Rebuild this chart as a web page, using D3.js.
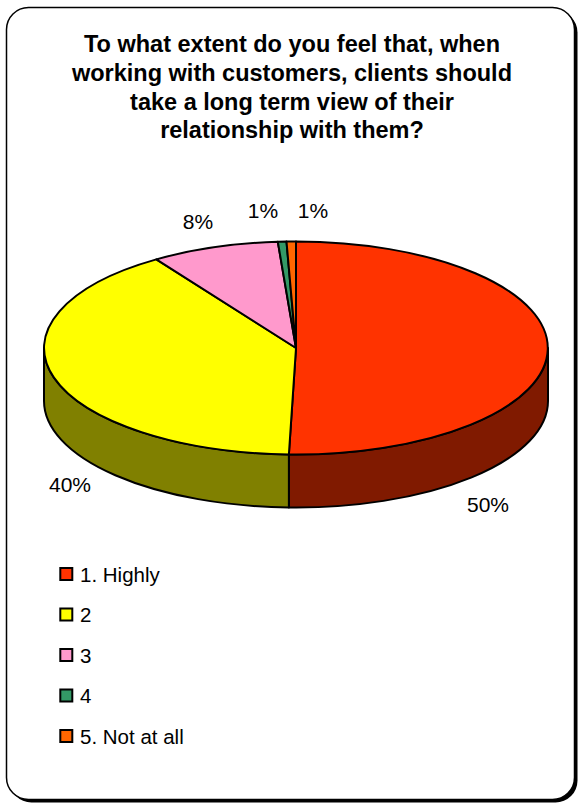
<!DOCTYPE html>
<html>
<head>
<meta charset="utf-8">
<script src="https://cdn.jsdelivr.net/npm/d3@7"></script>
<style>
  html, body { margin: 0; padding: 0; background: #fff; }
  svg { display: block; }
  text { font-family: "Liberation Sans", Arial, sans-serif; fill: #000; }
</style>
</head>
<body>
<svg id="chart" width="580" height="805"></svg>
<script>
// Survey answers, share of respondents (%)
const categories = ["1. Highly", "2", "3", "4", "5. Not at all"];
const shares = [50.45, 40.2, 8.2, 0.55, 0.6];
const topColors = ["#FF3300", "#FFFF00", "#FF99CC", "#339966", "#FF6600"];
const sideColors = ["#801A00", "#808000", "#804D66", "#1A4D33", "#803300"];
const titleLines = [
  "To what extent do you feel that, when",
  "working with customers, clients should",
  "take a long term view of their",
  "relationship with them?"
];

// Layout
const W = 580, H = 805;
const cx = 296, cy = 348, rx = 252, ry = 106.5, depth = 53;
// Centres of the percentage labels, one per slice
const labelAt = [[488, 512], [70, 492], [198, 229], [263, 218], [313, 218]];

const svg = d3.select("#chart");

// Frame with drop shadow
svg.append("rect")
  .attr("x", 9.5).attr("y", 10.5).attr("width", 568).attr("height", 792)
  .attr("rx", 22).attr("ry", 22).attr("fill", "#000");
svg.append("rect")
  .attr("x", 6.5).attr("y", 7.5).attr("width", 568).attr("height", 792)
  .attr("rx", 22).attr("ry", 22)
  .attr("fill", "#fff").attr("stroke", "#000").attr("stroke-width", 1.5);

// Title
svg.append("text")
  .attr("text-anchor", "middle")
  .attr("font-weight", "bold")
  .attr("font-size", 23.5)
  .selectAll("tspan")
  .data(titleLines)
  .join("tspan")
  .attr("x", 292)
  .attr("y", (d, i) => 52 + i * 28.8)
  .text(d => d);

// Pie angles (clockwise from 12 o'clock)
const pie = d3.pie().sort(null).value(d => d).startAngle(0).endAngle(2 * Math.PI);
const arcs = pie(shares);

// Point on the tilted rim at angle a, shifted down by dy
const pt = (a, dy = 0) => [cx + rx * Math.sin(a), cy - ry * Math.cos(a) + dy];
const fmt = p => p.map(v => v.toFixed(2)).join(",");

function topPath(d) {
  const p0 = pt(d.startAngle), p1 = pt(d.endAngle);
  const large = d.endAngle - d.startAngle > Math.PI ? 1 : 0;
  return `M${cx},${cy}L${fmt(p0)}A${rx},${ry} 0 ${large} 1 ${fmt(p1)}Z`;
}

function sidePath(d) {
  const s = Math.max(d.startAngle, Math.PI / 2);
  const e = Math.min(d.endAngle, 3 * Math.PI / 2);
  if (s >= e) return null;
  return `M${fmt(pt(s))}A${rx},${ry} 0 0 1 ${fmt(pt(e))}` +
         `L${fmt(pt(e, depth))}A${rx},${ry} 0 0 0 ${fmt(pt(s, depth))}Z`;
}

const pieG = svg.append("g")
  .attr("stroke", "#000").attr("stroke-width", 2).attr("stroke-linejoin", "round");

// Front walls
pieG.selectAll("path.side")
  .data(arcs.filter(d => sidePath(d)))
  .join("path")
  .attr("class", "side")
  .attr("d", sidePath)
  .attr("fill", d => sideColors[d.index]);

// Top faces
pieG.selectAll("path.top")
  .data(arcs)
  .join("path")
  .attr("class", "top")
  .attr("d", topPath)
  .attr("fill", d => topColors[d.index]);

// Percentage labels
svg.append("g")
  .attr("font-size", 21)
  .attr("text-anchor", "middle")
  .selectAll("text")
  .data(arcs)
  .join("text")
  .attr("x", d => labelAt[d.index][0])
  .attr("y", d => labelAt[d.index][1])
  .text(d => Math.round(d.data) + "%");

// Legend
const rowY = d3.scalePoint().domain(categories).range([574, 736]);
const legend = svg.append("g")
  .selectAll("g")
  .data(categories)
  .join("g")
  .attr("transform", d => `translate(0,${rowY(d)})`);
legend.append("rect")
  .attr("x", 60.3).attr("y", -6).attr("width", 12).attr("height", 12)
  .attr("fill", (d, i) => topColors[i])
  .attr("stroke", "#000").attr("stroke-width", 2);
legend.append("text")
  .attr("x", 80).attr("y", 7.5)
  .attr("font-size", 20.5)
  .text(d => d);
</script>
</body>
</html>
